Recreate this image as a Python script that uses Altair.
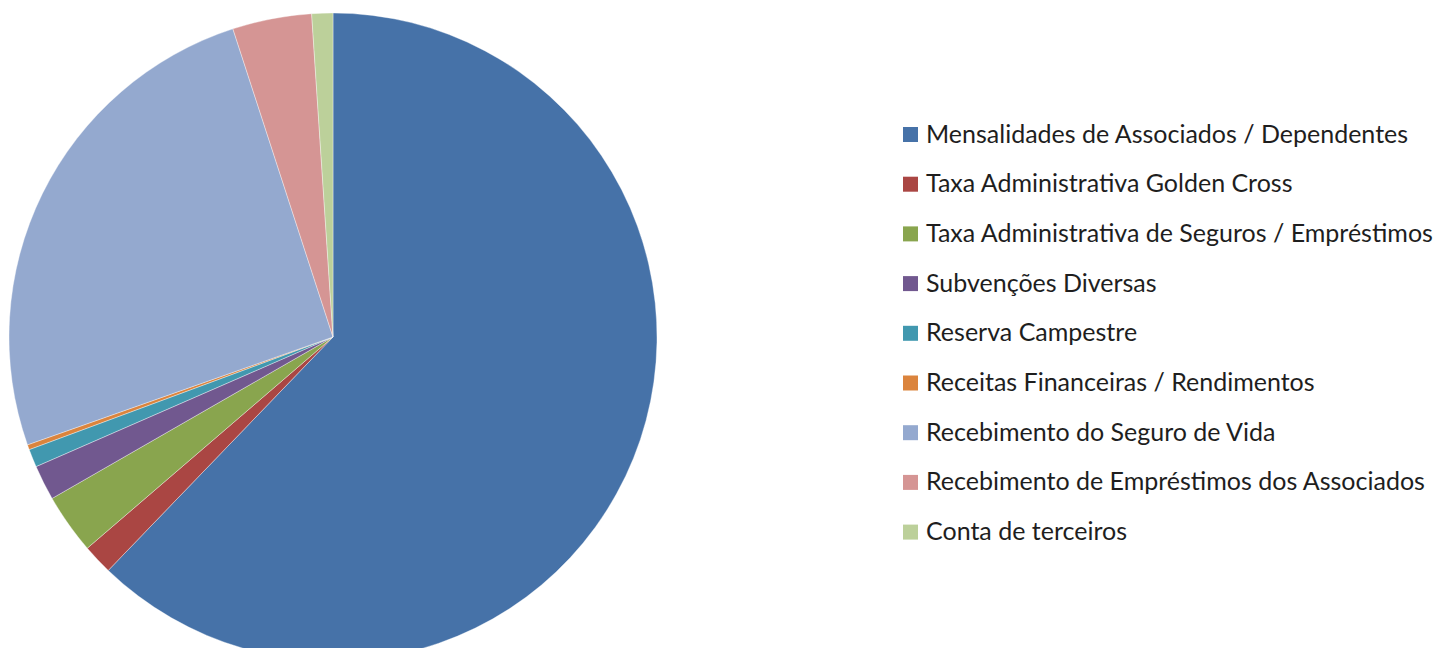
import altair as alt
import pandas as pd

categories = [
    "Mensalidades de Associados / Dependentes",
    "Taxa Administrativa Golden Cross",
    "Taxa Administrativa de Seguros / Empréstimos",
    "Subvenções Diversas",
    "Reserva Campestre",
    "Receitas Financeiras / Rendimentos",
    "Recebimento do Seguro de Vida",
    "Recebimento de Empréstimos dos Associados",
    "Conta de terceiros",
]
values = [62.2, 1.5, 3.0, 1.75, 0.9, 0.25, 25.4, 3.95, 1.05]
colors = ["#4672A8", "#AA4643", "#89A54E", "#71588F", "#4198AF",
          "#DB843D", "#94A9CF", "#D59594", "#BCD09A"]

df = pd.DataFrame({"categoria": categories, "valor": values, "ordem": list(range(len(categories)))})

chart = alt.Chart(df).mark_arc(
    outerRadius=324, stroke="white", strokeWidth=0.6, strokeOpacity=0.6
).encode(
    theta=alt.Theta("valor:Q", stack=True),
    order=alt.Order("ordem:Q"),
    x=alt.value(325),
    y=alt.value(329),
    color=alt.Color(
        "categoria:N",
        sort=categories,
        scale=alt.Scale(domain=categories, range=colors),
        legend=alt.Legend(
            title=None,
            orient="none",
            legendX=890,
            legendY=114,
            padding=0,
            symbolType="square",
            symbolSize=225,
            symbolStrokeWidth=0,
            labelFont="Lato",
            labelFontSize=25,
            labelColor="#1e1e1e",
            labelOffset=3,
            labelLimit=0,
            rowPadding=23.7,
        ),
    ),
).properties(
    width=1429,
    height=640,
    padding=0,
    autosize=alt.AutoSizeParams(type="none"),
).configure_view(stroke=None)

chart.save("out.html", embed_options={"renderer": "svg", "actions": False})
